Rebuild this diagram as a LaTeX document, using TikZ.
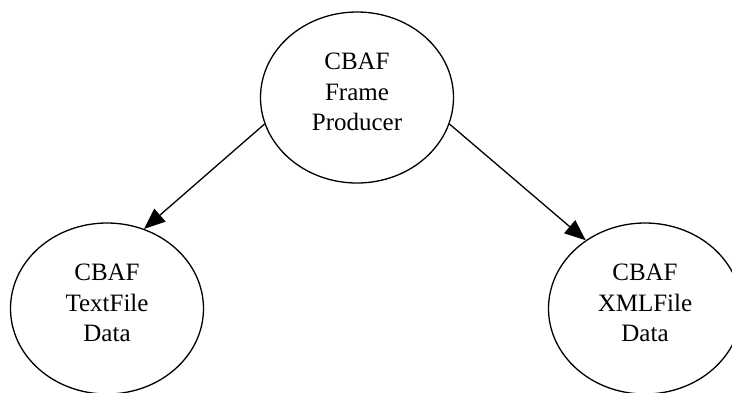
\documentclass[tikz,border=0pt]{standalone}
\usepackage{fontspec}
\setmainfont{Liberation Serif}
\usetikzlibrary{arrows.meta,shapes.geometric}
\begin{document}
\begin{tikzpicture}[x=1pt,y=-1pt,
  proc/.style={ellipse,draw=black,line width=1.3pt,minimum width=193pt,minimum height=171pt,inner sep=0pt,align=center,text height=77.5pt,text depth=11.5pt,font=\fontsize{25}{30.5}\selectfont},
  flow/.style={draw=black,line width=1.3pt,-{Triangle[length=21pt,width=17pt]}}]
\useasboundingbox (0,0) rectangle (732,392);
\node[proc] (top) at (357,97.5) {CBAF\\Frame\\Producer};
\node[proc] (left) at (107,308.5) {CBAF\\TextFile\\Data};
\node[proc] (right) at (645,308.5) {CBAF\\XMLFile\\Data};
\draw[flow] (top.196) -- (left.65);
\draw[flow] (top.344) -- (right.131);
\end{tikzpicture}
\end{document}
